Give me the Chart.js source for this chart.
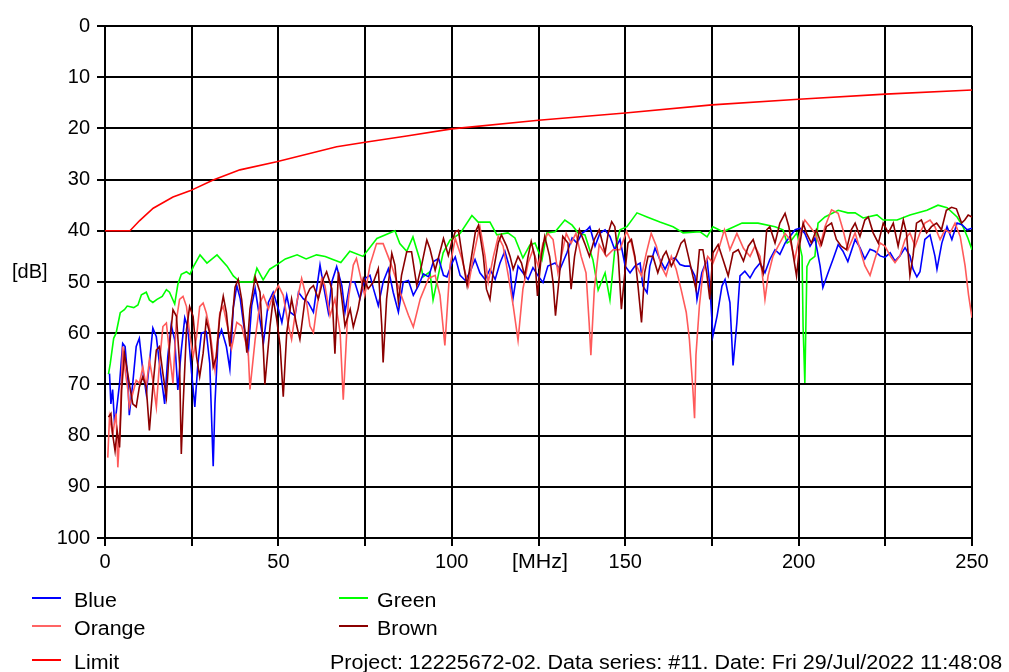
<!DOCTYPE html>
<html>
<head>
<meta charset="utf-8">
<script src="https://cdn.jsdelivr.net/npm/chart.js@4.4.1/dist/chart.umd.min.js"></script>
<style>
  html, body { margin: 0; padding: 0; background: #fff; }
  #wrap { position: relative; width: 1009px; height: 672px; font-family: "Liberation Sans", Arial, sans-serif; color: #000; }
  #chart { position: absolute; left: 0; top: 0; }
  .lbl { position: absolute; font-size: 20px; line-height: 20px; white-space: nowrap; transform-origin: 0 50%; transform: scaleX(1.07); }
  .sw { position: absolute; width: 29px; height: 2px; }
</style>
</head>
<body>
<div id="wrap">
  <canvas id="chart" width="1009" height="672"></canvas>
  <div class="lbl" style="left:12px; top:261px; transform:none;">[dB]</div>
  <div class="lbl" style="left:512px; top:551px;">[MHz]</div>

  <div class="sw" style="left:32px; top:597px; background:#0000ff;"></div>
  <div class="lbl" style="left:74px; top:590px;">Blue</div>
  <div class="sw" style="left:32px; top:625px; background:#ff6464;"></div>
  <div class="lbl" style="left:74px; top:618px;">Orange</div>
  <div class="sw" style="left:32px; top:659px; background:#ff0000;"></div>
  <div class="lbl" style="left:74px; top:652px;">Limit</div>
  <div class="sw" style="left:339px; top:597px; background:#00ff00;"></div>
  <div class="lbl" style="left:377px; top:590px;">Green</div>
  <div class="sw" style="left:339px; top:625px; background:#8b0000;"></div>
  <div class="lbl" style="left:377px; top:618px;">Brown</div>
  <div class="lbl" id="footer" style="left:330px; top:652px; transform:scaleX(1.075);">Project: 12225672-02. Data series: #11. Date: Fri 29/Jul/2022 11:48:08</div>
</div>
<script>
// Frequencies in MHz, levels in dB
const blueFreq = [1.3,1.7,2.2,2.7,3.2,4.2,5.1,5.8,6.6,7,8,9,9.9,10.9,11.9,12.8,13.8,14.8,15.7,16.7,17.2,18.1,19.1,20.1,21,22,23,23.9,24.9,25.9,26.8,27.8,29.2,30.2,31.2,31.7,32.6,33.6,35,36,37,38,39,39.9,41.3,42.3,43.3,44.2,45.7,47.1,48.5,50,51,52.4,53.4,54.8,55.8,57.2,58.6,60.1,62,63,64.4,65.4,66.8,68.3,69.2,70.7,72,73.5,75,76.4,77.4,78.8,80.2,81.7,83.1,84.6,86,87.5,88.9,90.4,91.8,93.3,94.7,96.2,97.6,98.6,100,101,102.4,103.9,105.3,106.7,108.1,109.6,111,112.5,113.9,115.3,116.8,117.6,119.1,120.5,122,123.4,124.9,126.3,127.7,129.8,131.2,133.2,134.7,136.1,137.5,139,139.8,141.3,142.7,144.2,145.6,147,148.5,150,151.4,152.8,154.3,155.1,156.3,157.1,158.6,160,161.5,162.9,164.4,165.8,167.2,168.7,170.1,170.7,172.1,173.6,174.4,175.3,176.5,177.9,178.8,180.2,181.1,182.2,183.1,184.5,186,187.4,188.9,190.3,191.7,193.2,194.6,196.1,197.5,199,200.4,201.8,203.3,204.7,206.2,207,208.5,209.9,211.4,212.8,214.2,216.3,217.7,219.1,220.6,222,223.5,224.9,226.4,227.8,229.2,230.7,232.1,233,234.1,235,236.4,237.9,239.3,239.9,241.3,242.8,244.2,245.7,247.1,248.6,250];
const blueDb = [67.9,73.8,71,77,75.7,69.8,62,62.6,69.2,76,69.8,62.6,61,67.2,71.8,65.9,59,60.7,65.9,71.1,73.8,64.6,58.4,61.3,71.1,63.3,57,59,67.2,74.4,65.9,60,59.7,65.9,86,73.8,61.3,59.3,62.6,67,55,50.7,53.3,58,63.8,54.6,51.3,55.3,61.8,54,52,55.3,57.9,52.6,55.9,56.6,52,53.3,54,55.9,46.7,50.7,55.9,50,47,50.7,55.9,50,50,53.3,49.3,48.7,51.3,54.6,50,47.4,52,55.9,50,49.7,52.6,50.7,48.4,49,46,45.4,48.7,49,46.4,45.1,48.7,49.7,48,45.6,48.2,49.5,47.5,49.5,46.3,44,47.5,53.4,46.9,48.2,49.5,47.2,48.8,50.1,46.9,46.3,47.5,44.3,41.4,42.4,40.5,39.8,39.2,43,40.5,39.8,41.1,43.7,41.7,46.9,48.2,46.9,46.3,50.8,52.1,46.9,43.4,45.6,47.5,45.6,45.3,46.6,46.9,46.9,48.8,53.4,48.2,45.6,50.8,60.5,56.6,50.8,49.5,54,66.3,57.9,48.8,47.9,49.2,47.5,46.3,48.2,45.6,43.7,44.6,42.4,41.1,39.8,39.5,40.5,43,41.4,46.9,51.1,48.2,45.6,42.7,44,46,41.7,43.3,45.5,43.6,44,44.9,45.2,44.3,45.9,44.9,43.3,44.9,47.5,49,48,41.7,40.8,44.9,47.5,42.4,39.2,41.7,38.5,38.8,39.8,39.5];

const orangeFreq = [0.8,1.3,2.2,3.2,3.7,4.3,5.1,5.8,6.6,7,8,9,9.9,10.9,11.9,12.8,13.8,14.8,15.7,16.7,17.7,18.6,19.6,20.6,21.5,22.5,23.5,24.4,25.4,26.4,27.3,28.3,29.2,30.2,31.7,33.1,34.1,35.5,36.5,38,39.4,41.3,41.8,43.3,44.7,45.7,47.1,48.5,50,51.4,52.9,53.8,55.3,56.7,57.7,59.1,60.1,61,62.5,63.4,64.9,66.3,67.8,68.7,70.2,71.6,72.5,74.9,76.4,78.3,80.2,82.6,85.1,87.5,88.9,90.9,93.3,95.2,96.6,98,99.5,101,102.9,104.8,106.3,107.7,108.1,109.6,110.5,112,113.4,114.8,116.3,117.7,119.1,120.5,122,123.4,124.9,126.3,127.7,129.2,130.6,131.6,133,134.4,135.8,137.3,138.7,139.6,140.1,141.1,142.5,144.6,146.5,148.5,150.4,151.8,153.3,154.7,156.1,157.5,159,160.4,161.8,163.3,164.7,166.1,167.6,168.5,169.5,170,170.4,171.4,172.4,173.8,175.3,177.2,178.6,180.2,182.2,184.1,186,187.4,188.9,189.8,190.3,191.2,192.6,194.1,196.1,197.5,198.9,200.4,201.8,203.3,204.7,206.2,207.6,209.5,211.4,212.8,214.2,216.3,217.7,219.1,220.6,222,223.5,224.9,226.4,227.8,229.2,230.7,232.1,233.6,235,236.4,237.9,239.3,240.8,242.2,243.7,245.1,246.6,248,249,250];
const orangeDb = [84.3,76.4,79.7,75.7,86.2,79,62.6,67.2,71.1,74.4,71.8,69.2,69.8,66.6,70.5,65.2,69.2,74.4,65.9,58.7,58,63.9,69.8,57.4,53.4,52.8,54.8,60,64.6,60.7,54.8,54.1,56,59.3,67.2,56,54.8,59.3,63,57.9,58.6,63.8,71,61.2,54,52.6,55.3,52.6,50.7,52.6,58.6,61.2,54,49.3,52,58.6,59.9,55.3,49.3,50.7,56.6,53.3,59.9,73,53.3,46.7,45.4,52.6,46.7,42.5,42.5,46.7,52,56.5,58.8,53.3,49.3,48.7,52.6,62.4,46.7,41.5,45.4,50.7,44.8,40.2,39.2,45,50.1,45,41.1,43,48.8,54.6,61.4,51.4,46.3,43.7,46.9,42.4,40.5,41.7,48.2,45,40.5,42.4,40.5,45,48.2,57.9,64.3,51.4,42.7,45,43.7,43.7,40.1,42.4,46.9,48.8,44.3,40.5,43,46.9,48.8,45,47.5,51.4,55.9,61.1,70.8,76.6,64.3,54.6,48.2,45,46.3,43,39.8,43.7,40.5,43.4,45,43,45,50.1,53.4,48.8,45,43,40.5,41.7,45.6,40.5,37.9,39.2,40.5,43,39.2,35.9,36.6,39.8,43.7,40.4,43.6,46.8,48.7,45.5,42.4,43,44.9,46.2,44.9,41.7,40.4,43,40.4,38.5,37.9,39.2,41.7,39.8,40.4,38.5,41.1,46.8,52.5,57];

const greenFreq = [1,1.5,2.5,3.2,4.4,5.6,6.4,8.3,9.5,10.5,11.9,12.8,13.8,15,16.5,17.7,18.6,20.1,21,22,23.5,24.5,25.5,27.4,29.4,32.3,35.2,37,39,42.7,43.8,45.6,47.5,49.6,52,55.4,58,61,63.5,65.7,68,70.6,74.4,78.4,83.6,85,87,88.8,90.8,91.7,93.7,94.6,96,97.5,99.5,102.4,105.8,107.6,111,113,116.2,118.2,120.5,122.5,124,126,127.4,129.8,132.6,134.7,136.4,138.4,140.7,142.2,144.2,145.6,147,148.5,150.5,153.4,156.3,160,163.8,166.7,171.6,173.6,175.3,178.2,183.7,188.3,193.2,195.5,196.7,198,199.5,201,201.3,201.8,202.4,203.3,204.7,205.6,207.6,211.4,214.2,216.3,218.6,222.6,224.4,228.4,232.1,237,240.2,242.8,245.7,247.4,248.8,250];
const greenDb = [68,66,61,60,56,55.4,54.7,55,54.5,52.5,52,53.5,54,53.4,52.8,51.5,52,54.3,50.5,48.5,48,48.5,47,44.7,46.3,44.7,46.9,48.8,50,50,47.3,49.6,47.5,46.6,45.5,44.7,45.5,44.7,45,45.6,46.2,44,45,41.5,40,42.5,44,41.2,45.7,49,48,53.5,49,44.3,41.8,40.5,37,38.3,38.3,40.8,40.4,41.4,45.3,42.8,42.4,45.7,40.4,40.2,37.9,38.9,40.4,40.8,45.7,51.6,48.2,53.5,43.7,39.8,39.2,36.5,37.3,38.3,39.2,40.4,40.2,41.2,39.2,40.2,38.5,38.5,39.2,39.8,42.4,41.8,40.4,45,58.8,69.7,47,45.7,45,38.5,37.3,36,36.5,36.5,37.5,36.9,37.9,37.9,36.9,36,35,35.5,37.3,39.2,41.4,43.7];

const brownFreq = [1,1.7,2.2,2.9,3.5,4.2,4.8,5.6,6.4,7,8,9,9.9,10.9,11.9,12.8,13.8,14.8,15.7,16.7,17.7,18.6,19.6,20.6,21.5,22,22.5,23.5,24.4,25.4,26.4,27.3,28.3,29.2,30.2,31.2,32.1,33.1,34.1,35,36,37.5,38.4,39.4,40.3,40.9,41.8,43.3,44.7,45.7,46.1,47.6,48.5,49.5,50.5,51.4,52.4,53.8,55.3,56.2,57.7,59.1,60.1,61.5,63,63.9,65.4,66.3,67.3,68.3,69.2,70.7,71.6,73,74.5,75.9,77.4,78.8,79.8,80.2,81.2,82.7,83.6,84.6,85.5,87,88.4,89.9,91.3,92.8,93.7,95.2,96.6,97.6,99,100,101,101.9,103.4,104.4,105.3,106.8,107.7,109.1,110,111,111.9,113.4,114.3,115.8,116.8,117.7,119.1,120.1,121,122,122.9,123.9,124.7,125.8,126.8,128.2,129.2,129.9,131.1,132,133.5,134.4,135.4,136.8,138.3,139.7,141.1,142.5,144.2,145.1,146.1,147,148,148.9,149.9,150.8,151.8,152.8,153.7,154.7,155.6,156.6,158,159.4,160.9,161.8,163.3,164.7,166.1,167.1,168,169.5,170.4,171.4,172.4,173.5,174.4,175.3,176.8,178.2,179.7,181.1,182.6,184.1,185.5,186.9,188.4,189.8,190.8,191.7,193.2,194.6,196.1,197.2,198.5,199.4,200.4,201.3,202.3,203.7,205.1,206.6,208,209.5,210.9,212.3,213.8,215.2,216.3,217.7,219.1,220.1,221.5,223,224.4,225.9,227.3,228.7,230.2,231.1,232.1,233,234,235.4,236.9,238.3,239.8,241.2,242.6,244.1,245.5,247,247.9,248.9,250];
const brownDb = [76.4,75.7,79.7,83,79,82.3,71.1,63.9,67.2,69.8,73.8,74.4,70.5,68.5,70.5,79,70.5,63.3,62.6,67.9,72.5,62.6,55.4,56.7,65.9,83.6,74.4,59.3,54.8,56.7,64.6,68.5,63.9,57.4,60,66.6,64.6,56.7,52.8,56,62.6,51,49.5,53.4,59.3,63.8,55.3,49,52,63.8,70,58.6,53.3,57.2,62.5,72.4,59.9,53.3,58.6,61.2,53.3,51.3,50.7,53.3,49.3,48,51.3,64,48,53.3,58.6,55.3,58.8,55.2,49.3,51.3,50,47.4,58.5,65.7,53.3,44.4,46.7,53.9,48.7,44.1,44.1,50.7,46.7,41.8,43.5,47.7,44.1,41.5,44.8,42.2,40.2,39.9,46.7,50.7,46.7,40.2,38.9,45,51.4,53.4,48.2,42.4,40.8,43,45,47.5,45,46.3,48.8,45,42.1,45,52.7,45,41.1,45,50.1,56.6,48.2,41.1,42.4,51.4,45,39.8,42.4,45,41.7,39.8,44.3,40.5,38.2,39.2,45,55.3,48.2,42.4,41.7,45,50.8,57.9,48.2,45,45,48.2,45,44,46.9,45,42.4,41.7,44.3,48.8,51.4,43.7,43.7,48.2,53.4,44.3,42.7,45.6,48.8,44.3,43.7,45.9,43,41.7,45,48.2,39.8,39.2,42.4,38.5,36.6,39.2,45,48.8,42.4,38.5,40.5,42.4,39.8,42.7,39.2,38.5,41.7,43,43.7,39.8,38.5,41.1,37.9,37.3,40.4,42.4,38.5,40.4,38.5,43,37.9,40.4,48.7,44.9,38.5,37.9,40.4,39.2,38.5,39.8,36,35.4,35.7,38.5,37.9,36.9,37.3];

const limitFreq = [0,7.2,10,13.9,19.6,24.5,31.2,38.9,49.5,66.8,75,87,100,125,150,175,200,225,250];
const limitDb = [40,40,38,35.6,33.4,32.2,30.1,28.1,26.5,23.6,22.7,21.5,20.1,18.4,17,15.4,14.3,13.3,12.5];

const yTicks = [0,10,20,30,40,50,60,70,80,90,100];
const xLabelled = [0,50,100,150,200,250];

function pts(fs, ds) {
  return fs.map((f, i) => ({ x: f, y: ds[i] }));
}

function series(label, fs, ds, color, order) {
  return {
    label: label,
    data: pts(fs, ds),
    borderColor: color,
    backgroundColor: color,
    borderWidth: 1.6,
    pointRadius: 0,
    tension: 0,
    fill: false,
    order: order
  };
}

const tickFont = { family: '"Liberation Sans", Arial, sans-serif', size: 20 };

new Chart(document.getElementById('chart'), {
  type: 'line',
  data: {
    datasets: [
      series('Limit', limitFreq, limitDb, '#ff0000', 0),
      series('Brown', brownFreq, brownDb, '#8b0000', 1),
      series('Orange', orangeFreq, orangeDb, '#ff5a5a', 2),
      series('Blue', blueFreq, blueDb, '#0000ff', 3),
      series('Green', greenFreq, greenDb, '#00ff00', 4)
    ]
  },
  options: {
    responsive: false,
    animation: false,
    devicePixelRatio: 1,
    layout: { padding: { left: 0, right: 37, top: 26, bottom: 94 } },
    plugins: { legend: { display: false }, tooltip: { enabled: false } },
    scales: {
      x: {
        type: 'linear',
        min: 0,
        max: 250,
        afterFit: s => { s.height = 40; },
        grid: { color: '#000', lineWidth: 2, tickLength: 8 },
        border: { color: '#000', width: 2 },
        ticks: {
          stepSize: 25,
          autoSkip: false,
          maxRotation: 0,
          padding: 4,
          color: '#000',
          font: tickFont,
          callback: v => xLabelled.includes(v) ? String(v) : ''
        }
      },
      y: {
        type: 'linear',
        reverse: true,
        min: 0,
        max: 100,
        afterFit: s => { s.width = 105; },
        afterBuildTicks: s => { s.ticks = yTicks.map(v => ({ value: v })); },
        grid: { color: '#000', lineWidth: 2, tickLength: 8 },
        border: { color: '#000', width: 2 },
        ticks: { padding: 7, color: '#000', font: tickFont }
      }
    }
  }
});
</script>
</body>
</html>
